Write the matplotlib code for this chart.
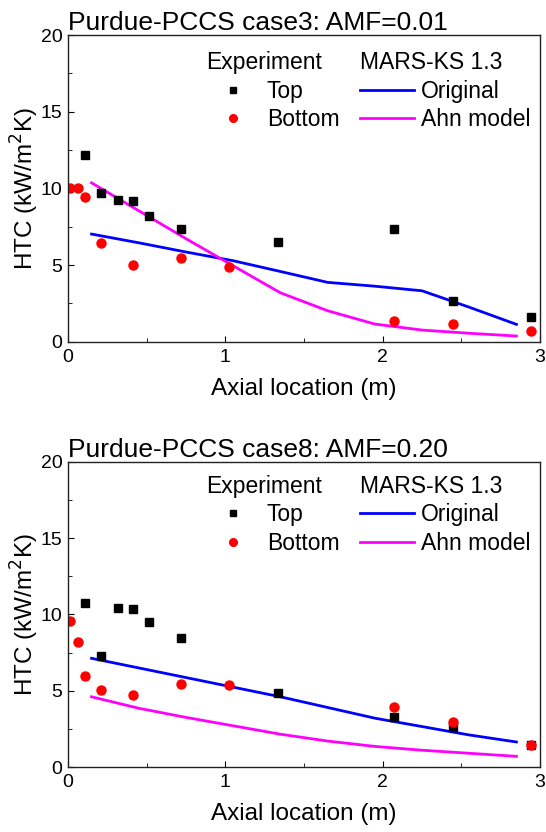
import matplotlib
matplotlib.use("Agg")
import matplotlib.pyplot as plt
from matplotlib.lines import Line2D

plt.rcParams['font.family'] = ['Liberation Sans', 'DejaVu Sans']

# experimental points (x in m, HTC in kW/m2K)
exp_x_top = [0.11, 0.21, 0.316, 0.416, 0.516, 0.72, 1.333, 2.07, 2.45, 2.94]
exp_x_bot = [0.011, 0.062, 0.11, 0.213, 0.416, 0.72, 1.025, 2.07, 2.45, 2.94]

case3_top = [12.17, 9.67, 9.24, 9.2, 8.2, 7.37, 6.48, 7.37, 2.67, 1.63]
case3_bot = [10.0, 10.0, 9.46, 6.46, 5.0, 5.48, 4.85, 1.37, 1.15, 0.7]

case8_top = [10.76, 7.27, 10.43, 10.37, 9.5, 8.45, 4.83, 3.25, 2.6, 1.42]
case8_bot = [9.58, 8.19, 5.96, 5.06, 4.74, 5.46, 5.37, 3.95, 2.97, 1.45]

# MARS-KS 1.3 node positions and results
mars_x = [0.15, 0.45, 0.75, 1.05, 1.35, 1.65, 1.95, 2.25, 2.55, 2.85]
case3_orig = [7.02, 6.45, 5.85, 5.28, 4.58, 3.87, 3.62, 3.32, 2.25, 1.13]
case3_ahn = [10.36, 8.54, 6.72, 4.95, 3.19, 2.02, 1.15, 0.76, 0.55, 0.37]
case8_orig = [7.12, 6.49, 5.86, 5.23, 4.6, 3.9, 3.2, 2.65, 2.1, 1.64]
case8_ahn = [4.6, 3.85, 3.25, 2.7, 2.15, 1.7, 1.35, 1.1, 0.9, 0.7]

titles = ["Purdue-PCCS case3: AMF=0.01", "Purdue-PCCS case8: AMF=0.20"]

LEG_FS = 16.5


def draw(ax, top, bot, orig, ahn, title, leg_y):
    ax.plot(mars_x, orig, color="#0000ff", lw=2.0)
    ax.plot(mars_x, ahn, color="#ff00ff", lw=2.0)
    ax.plot(exp_x_top, top, "s", color="black", ms=6, ls="none")
    ax.plot(exp_x_bot, bot, "o", color="#ff0000", ms=6.5, ls="none")

    ax.set_xlim(0, 3)
    ax.set_ylim(0, 20)
    ax.set_xticks([0, 1, 2, 3])
    ax.set_xticks([0.5, 1.5, 2.5], minor=True)
    ax.set_yticks([0, 5, 10, 15, 20])
    ax.set_yticks([2.5, 7.5, 12.5, 17.5], minor=True)
    ax.tick_params(which="both", direction="in", top=False, right=False,
                   labelsize=14)
    ax.tick_params(axis="x", pad=5)
    ax.tick_params(axis="y", pad=4)
    ax.tick_params(which="major", length=4)
    ax.tick_params(which="minor", length=3)
    for s in ax.spines.values():
        s.set_linewidth(1.0)
        s.set_color("#222222")

    ax.set_xlabel("Axial location (m)", fontsize=17.5, labelpad=9)
    ax.set_ylabel("HTC (kW/m$^2$K)", fontsize=17.5, labelpad=0)
    ax.set_title(title, fontsize=19, loc="left", pad=1, x=0.0)

    h_exp = [Line2D([], [], marker="s", color="black", ms=5, ls="none"),
             Line2D([], [], marker="o", color="#ff0000", ms=5.5, ls="none")]
    leg1 = ax.legend(h_exp, ["Top", "Bottom"], title="Experiment",
                     loc="upper left", bbox_to_anchor=(0.292, leg_y),
                     alignment="left", frameon=False,
                     fontsize=LEG_FS, title_fontsize=LEG_FS,
                     handlelength=2.35, handletextpad=0.32, labelspacing=0.25,
                     borderpad=0, borderaxespad=0)
    ax.add_artist(leg1)
    h_mars = [Line2D([], [], color="#0000ff", lw=2.0),
              Line2D([], [], color="#ff00ff", lw=2.0)]
    ax.legend(h_mars, ["Original", "Ahn model"], title="MARS-KS 1.3",
              loc="upper left", bbox_to_anchor=(0.619, leg_y),
              alignment="left", frameon=False,
              fontsize=LEG_FS, title_fontsize=LEG_FS,
              handlelength=2.35, handletextpad=0.32, labelspacing=0.25,
              borderpad=0, borderaxespad=0)


fig = plt.figure(figsize=(5.46, 8.32), dpi=100)
ax1 = fig.add_axes([0.1244, 0.5893, 0.8647, 0.3686])
ax2 = fig.add_axes([0.1244, 0.0781, 0.8647, 0.3670])

draw(ax1, case3_top, case3_bot, case3_orig, case3_ahn, titles[0], 0.948)
draw(ax2, case8_top, case8_bot, case8_orig, case8_ahn, titles[1], 0.958)

fig.savefig("out.png", dpi=100)
